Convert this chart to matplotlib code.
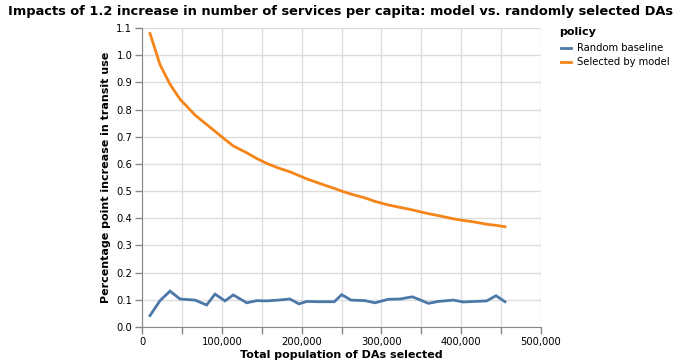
import matplotlib
matplotlib.use("Agg")
import matplotlib.pyplot as plt
from matplotlib.lines import Line2D
from matplotlib.ticker import FuncFormatter, MultipleLocator

population = [10000, 22600, 35100, 47600, 66400, 81000, 91500, 104000, 114400,
              131200, 143700, 156200, 170800, 185400, 196700, 206400, 220900,
              230600, 241000, 250200, 261900, 279400, 292000, 308600, 323300,
              338700, 348400, 358800, 371300, 390100, 402600, 417300, 431900,
              443600, 454900]
random_baseline = [0.042, 0.097, 0.132, 0.103, 0.099, 0.081, 0.121, 0.096, 0.118,
                   0.089, 0.097, 0.096, 0.099, 0.103, 0.085, 0.094, 0.093,
                   0.093, 0.093, 0.119, 0.099, 0.097, 0.089, 0.102, 0.103,
                   0.111, 0.100, 0.087, 0.094, 0.099, 0.092, 0.094, 0.096,
                   0.115, 0.093]
selected_by_model = [1.08, 0.965, 0.893, 0.838, 0.78, 0.745, 0.72, 0.69, 0.666,
                     0.641, 0.62, 0.602, 0.585, 0.571, 0.557, 0.545, 0.53,
                     0.52, 0.51, 0.50, 0.489, 0.475, 0.462, 0.449, 0.44,
                     0.431, 0.424, 0.417, 0.41, 0.398, 0.392, 0.386, 0.378,
                     0.374, 0.369]
series_names = ["Random baseline", "Selected by model"]
colors = ["#4c78a8", "#f58518"]

W, H = 682, 364
fig = plt.figure(figsize=(W / 100, H / 100), dpi=100)
ax = fig.add_axes([142 / W, 1 - 327 / H, (541 - 142) / W, (327 - 28) / H])

ax.plot(population, random_baseline, color=colors[0], lw=2, solid_joinstyle="miter")
ax.plot(population, selected_by_model, color=colors[1], lw=2, solid_joinstyle="miter")

ax.set_xlim(0, 500000)
ax.set_ylim(0, 1.1)
ax.xaxis.set_major_locator(MultipleLocator(50000))
ax.yaxis.set_major_locator(MultipleLocator(0.1))
ax.xaxis.set_major_formatter(FuncFormatter(lambda v, p: f"{int(round(v)):,}" if round(v) % 100000 == 0 else ""))
ax.yaxis.set_major_formatter(FuncFormatter(lambda v, p: f"{v:.1f}"))
ax.grid(True, color="#dddddd", lw=1)
ax.set_axisbelow(True)
for s in ["top", "right"]:
    ax.spines[s].set_visible(False)
for s in ["left", "bottom"]:
    ax.spines[s].set_color("#888888")
ax.tick_params(axis="both", colors="#888888", length=5, width=1, labelsize=7.2, labelcolor="black", pad=2)

ax.set_xlabel("Total population of DAs selected", fontsize=8, fontweight="bold", labelpad=2)
ax.set_ylabel("Percentage point increase in transit use", fontsize=8, fontweight="bold", labelpad=4)
fig.text(341 / W, 1 - 11 / H, "Impacts of 1.2 increase in number of services per capita: model vs. randomly selected DAs",
         ha="center", va="center", fontsize=9.4, fontweight="bold")

# legend drawn in figure pixel positions
fig.text(559 / W, 1 - 32 / H, "policy", ha="left", va="center", fontsize=8, fontweight="bold")
for i, (name, c) in enumerate(zip(series_names, colors)):
    yy = 1 - (48 + i * 14) / H
    fig.add_artist(Line2D([561 / W, 571 / W], [yy, yy], color=c, lw=2, transform=fig.transFigure))
    fig.text(577 / W, yy, name, ha="left", va="center", fontsize=7.2)

fig.savefig("out.png", dpi=100)
